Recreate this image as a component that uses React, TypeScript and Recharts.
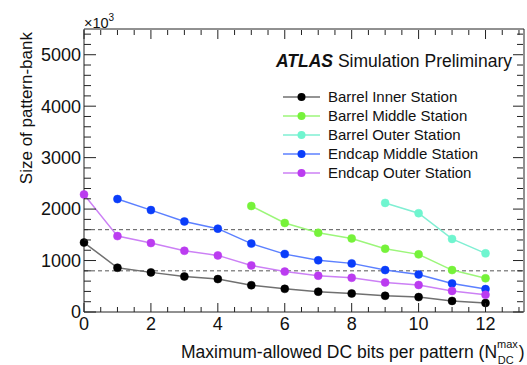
import { LineChart, Line, XAxis, YAxis, ReferenceLine, Legend } from "recharts";

const FONT = "'Liberation Sans', Arial, Helvetica, sans-serif";
const AXIS = "#222";

// x: maximum-allowed DC bits per pattern
const bits = [0, 1, 2, 3, 4, 5, 6, 7, 8, 9, 10, 11, 12];

// pattern-bank size (thousands)
const barrelInner = [1350, 860, 770, 690, 640, 520, 450, 395, 360, 315, 290, 215, 175];
const barrelMiddle = [null, null, null, null, null, 2060, 1730, 1540, 1430, 1230, 1120, 815, 655];
const barrelOuter = [null, null, null, null, null, null, null, null, null, 2120, 1920, 1420, 1140];
const endcapMiddle = [null, 2195, 1980, 1760, 1620, 1330, 1125, 1005, 945, 815, 730, 555, 445];
const endcapOuter = [2285, 1475, 1340, 1190, 1100, 905, 785, 705, 665, 575, 525, 410, 335];

// dashed guide levels
const guides = [1600, 800];

const X_MAX = 13.15;
const Y_MAX = 5500;

const xMajor = [0, 2, 4, 6, 8, 10, 12];
const xTicks = [0, 0.5, 1, 1.5, 2, 2.5, 3, 3.5, 4, 4.5, 5, 5.5, 6, 6.5, 7, 7.5, 8, 8.5, 9, 9.5, 10, 10.5, 11, 11.5, 12, 12.5, 13];
const yMajor = [0, 1000, 2000, 3000, 4000, 5000];
const yTicks = [0, 200, 400, 600, 800, 1000, 1200, 1400, 1600, 1800, 2000, 2200, 2400, 2600, 2800, 3000, 3200, 3400, 3600, 3800, 4000, 4200, 4400, 4600, 4800, 5000, 5200, 5400];

const series = [
  { key: "barrelInner", name: "Barrel Inner Station", values: barrelInner, line: "#707070", point: "#000000" },
  { key: "barrelMiddle", name: "Barrel Middle Station", values: barrelMiddle, line: "#9cf67a", point: "#76f23a" },
  { key: "barrelOuter", name: "Barrel Outer Station", values: barrelOuter, line: "#80efd3", point: "#6ff5cf" },
  { key: "endcapMiddle", name: "Endcap Middle Station", values: endcapMiddle, line: "#5c80ff", point: "#0a3dfa" },
  { key: "endcapOuter", name: "Endcap Outer Station", values: endcapOuter, line: "#cc80f5", point: "#bb3cf0" },
];

const data = bits.map((b, i) => {
  const row: Record<string, number | null> = { bits: b };
  series.forEach((s) => {
    row[s.key] = s.values[i];
  });
  return row;
});

const BottomTick = (props: any) => {
  const { x, y, payload } = props;
  const major = xMajor.includes(payload.value);
  const axisY = y - 5;
  return (
    <g>
      <line x1={x} x2={x} y1={axisY} y2={axisY - (major ? 9 : 5)} stroke={AXIS} />
      {major && (
        <text x={x} y={y} dy="0.71em" textAnchor="middle" fontSize={18} fontFamily={FONT} fill="#111">
          {payload.value}
        </text>
      )}
    </g>
  );
};

const TopTick = (props: any) => {
  const { x, y, payload } = props;
  const major = xMajor.includes(payload.value);
  return <line x1={x} x2={x} y1={y + 1} y2={y + 1 + (major ? 9 : 5)} stroke={AXIS} />;
};

const LeftTick = (props: any) => {
  const { x, y, payload } = props;
  const major = yMajor.includes(payload.value);
  const axisX = x + 3;
  return (
    <g>
      <line x1={axisX} x2={axisX + (major ? 12 : 7)} y1={y} y2={y} stroke={AXIS} />
      {major && (
        <text x={x} y={y} dy="0.355em" textAnchor="end" fontSize={18} fontFamily={FONT} fill="#111">
          {payload.value}
        </text>
      )}
    </g>
  );
};

const RightTick = (props: any) => {
  const { x, y, payload } = props;
  const major = yMajor.includes(payload.value);
  return <line x1={x - 1} x2={x - 1 - (major ? 10 : 6)} y1={y} y2={y} stroke={AXIS} />;
};

const LegendBox = () => (
  <svg width={260} height={150} style={{ display: "block" }}>
    <text x={16} y={27} fontSize={17.5} fontFamily={FONT} fill="#111">
      <tspan fontWeight="bold" fontStyle="italic">ATLAS</tspan>
      <tspan> Simulation Preliminary</tspan>
    </text>
    {series.map((s, i) => {
      const cy = 57 + i * 19;
      return (
        <g key={s.key}>
          <line x1={23} x2={60} y1={cy} y2={cy} stroke={s.line} strokeWidth={1.5} />
          <circle cx={41.5} cy={cy} r={4} fill={s.point} />
          <text x={68} y={cy} dy="0.35em" fontSize={15} fontFamily={FONT} fill="#111">
            {s.name}
          </text>
        </g>
      );
    })}
  </svg>
);

export default function App() {
  return (
    <div style={{ position: "absolute", left: 0, top: 0, background: "#fff" }}>
      <LineChart width={527} height={365} data={data} margin={{ top: 28, right: 2, bottom: 0, left: 0 }}>
        <XAxis
          dataKey="bits"
          type="number"
          domain={[0, X_MAX]}
          ticks={xTicks}
          interval={0}
          tickSize={0}
          tickMargin={5}
          tickLine={false}
          tick={BottomTick}
          height={53}
          axisLine={{ stroke: AXIS }}
          label={() => (
            <text x={181} y={358} fontSize={17.5} fontFamily={FONT} fill="#111">
              Maximum-allowed DC bits per pattern (N
              <tspan dy={-10} fontSize={11}>max</tspan>
              <tspan dx={-20} dy={16} fontSize={11}>DC</tspan>
              <tspan dx={5} dy={-6} fontSize={17.5}>)</tspan>
            </text>
          )}
        />
        <XAxis
          xAxisId="top"
          dataKey="bits"
          orientation="top"
          type="number"
          domain={[0, X_MAX]}
          ticks={xTicks}
          interval={0}
          tickSize={0}
          tickMargin={0}
          tickLine={false}
          tick={TopTick}
          height={1}
          axisLine={false}
          label={() => (
            <text x={84} y={27.5} fontSize={14.5} fontFamily={FONT} fill="#111">
              ×10<tspan dy={-7} fontSize={10}>3</tspan>
            </text>
          )}
        />
        <YAxis
          type="number"
          domain={[0, Y_MAX]}
          ticks={yTicks}
          interval={0}
          tickSize={0}
          tickMargin={3}
          tickLine={false}
          tick={LeftTick}
          width={84}
          axisLine={{ stroke: AXIS }}
          label={() => (
            <text
              x={32}
              y={32}
              transform="rotate(-90, 32, 32)"
              textAnchor="end"
              fontSize={17}
              fontFamily={FONT}
              fill="#111"
            >
              Size of pattern-bank
            </text>
          )}
        />
        <YAxis
          yAxisId="right"
          orientation="right"
          type="number"
          domain={[0, Y_MAX]}
          ticks={yTicks}
          interval={0}
          tickSize={0}
          tickMargin={0}
          tickLine={false}
          tick={RightTick}
          width={1}
          axisLine={false}
        />
        {guides.map((g) => (
          <ReferenceLine key={g} y={g} stroke="#555" strokeDasharray="4 3" />
        ))}
        {/* frame: top and right edges of the plot box */}
        <ReferenceLine y={Y_MAX} stroke={AXIS} />
        <ReferenceLine x={X_MAX} stroke={AXIS} />
        {/* invisible copy so the mirrored top/right tick axes get drawn */}
        <Line
          xAxisId="top"
          yAxisId="right"
          dataKey="barrelInner"
          stroke="none"
          dot={false}
          activeDot={false}
          legendType="none"
          isAnimationActive={false}
        />
        {series.map((s) => (
          <Line
            key={s.key}
            dataKey={s.key}
            name={s.name}
            stroke={s.line}
            strokeWidth={1.5}
            dot={{ r: 4, fill: s.point, stroke: s.point, strokeWidth: 0.5 }}
            isAnimationActive={false}
          />
        ))}
        <Legend
          layout="horizontal"
          verticalAlign="middle"
          align="center"
          wrapperStyle={{ left: 260, top: 40, width: 260 }}
          content={LegendBox}
        />
      </LineChart>
    </div>
  );
}
